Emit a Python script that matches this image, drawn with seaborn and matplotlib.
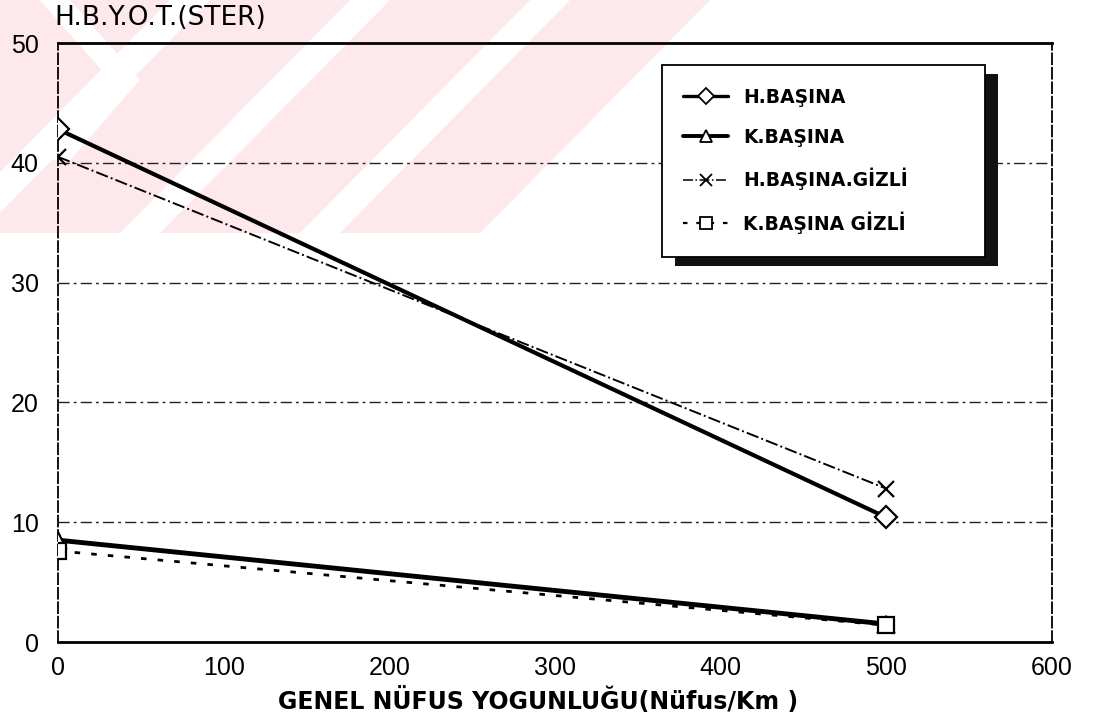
import numpy as np
import pandas as pd
import matplotlib
matplotlib.use("Agg")
import matplotlib.pyplot as plt
from matplotlib.patches import Polygon, Rectangle
from matplotlib.lines import Line2D
import seaborn as sns

# Veriler
nufus_yogunlugu = [0, 500]
h_basina = [42.8, 10.4]
k_basina = [8.5, 1.5]
h_basina_gizli = [40.5, 12.8]
k_basina_gizli = [7.6, 1.4]

seri_adlari = ["H.BAŞINA", "K.BAŞINA", "H.BAŞINA.GİZLİ", "K.BAŞINA GİZLİ"]
x_ticks = [0, 100, 200, 300, 400, 500, 600]
y_ticks = [0, 10, 20, 30, 40, 50]

sns.set_style("white")
plt.rcParams["font.family"] = ["Liberation Sans", "DejaVu Sans"]
plt.rcParams["text.color"] = "black"

W, H = 1104, 721
fig = plt.figure(figsize=(W / 100, H / 100), dpi=100)


def px(x, y):
    # piksel -> figure koordinati
    return (x / W, 1 - y / H)


# soluk kirmizi filigran (taranmis sayfadaki arka plan)
pembe = Polygon([px(0, 0), px(735, 0), px(500, 233), px(0, 233)], closed=True,
                transform=fig.transFigure, facecolor="#fde8ec", edgecolor="none", zorder=0)
fig.patches.append(pembe)
for bx in [-60, 120, 300, 480]:
    serit = Polygon([px(bx, 233), px(bx + 40, 233), px(bx + 270, 0), px(bx + 230, 0)],
                    closed=True, transform=fig.transFigure, facecolor="white",
                    edgecolor="none", zorder=0)
    fig.patches.append(serit)
ok = Polygon([px(40, 0), px(70, 0), px(140, 80), px(70, 160), px(40, 160), px(110, 80)],
             closed=True, transform=fig.transFigure, facecolor="white",
             edgecolor="none", zorder=0)
fig.patches.append(ok)

ax = fig.add_axes([58 / W, 1 - 642 / H, (1052 - 58) / W, (642 - 43) / H])
ax.set_zorder(2)
ax.set_facecolor("none")

df = pd.DataFrame({
    "x": nufus_yogunlugu * 4,
    "y": h_basina + k_basina + h_basina_gizli + k_basina_gizli,
    "seri": [s for s in seri_adlari for _ in nufus_yogunlugu],
})

stiller = {
    "H.BAŞINA": dict(lw=3.0, ls="-", marker="D", ms=11),
    "K.BAŞINA": dict(lw=3.5, ls="-", marker="^", ms=12),
    "H.BAŞINA.GİZLİ": dict(lw=1.4, ls="-.", marker="x", ms=11),
    "K.BAŞINA GİZLİ": dict(lw=2.0, ls=(0, (2, 4)), marker="s", ms=11),
}

for ad in seri_adlari:
    st = stiller[ad]
    sns.lineplot(data=df[df["seri"] == ad], x="x", y="y", ax=ax, color="black",
                 linewidth=st["lw"], linestyle=st["ls"], marker=st["marker"],
                 markersize=st["ms"], markerfacecolor="white", markeredgecolor="black",
                 markeredgewidth=1.6, legend=False, zorder=3)

ax.set_xlim(0, 600)
ax.set_ylim(0, 50)
ax.set_xticks(x_ticks)
ax.set_yticks(y_ticks)
ax.set_xlabel("")
ax.set_ylabel("")

# yatay izgara cizgileri
for yv in y_ticks[1:-1]:
    ax.axhline(yv, color="#222222", lw=1.0, ls=(0, (8, 3, 2, 3)), zorder=1)

for side in ["top", "bottom"]:
    ax.spines[side].set_linewidth(2.0)
    ax.spines[side].set_color("black")
for side in ["left", "right"]:
    ax.spines[side].set_linewidth(1.3)
    ax.spines[side].set_linestyle((0, (6, 2)))
    ax.spines[side].set_color("black")

ax.tick_params(axis="x", direction="in", length=7, width=1, pad=10, labelsize=18,
               colors="black", labelcolor="black")
ax.tick_params(axis="y", length=0, pad=14, labelsize=18, colors="black", labelcolor="black")

fig.text(54 / W, 1 - 18 / H, "H.B.Y.O.T.(STER)", fontsize=19, family="DejaVu Sans",
         color="black", ha="left", va="center")
fig.text(538 / W, 1 - 701 / H, "GENEL NÜFUS YOGUNLUĞU(Nüfus/Km )", fontsize=17,
         family="DejaVu Sans", fontweight="bold", color="black", ha="center", va="center")

# lejant: cerceve ve golge elle, icerik cercevesiz legend ile
x0, y0 = px(662, 257)
cerceve_w, cerceve_h = (985 - 662) / W, (257 - 65) / H
golge = Rectangle((x0 + 13 / W, y0 - 9 / H), cerceve_w, cerceve_h, transform=fig.transFigure,
                  facecolor="#111111", edgecolor="none", zorder=4, clip_on=False)
cerceve = Rectangle((x0, y0), cerceve_w, cerceve_h, transform=fig.transFigure,
                    facecolor="white", edgecolor="black", lw=1.3, zorder=4.5, clip_on=False)
ax.add_artist(golge)
ax.add_artist(cerceve)

tutamaklar = [Line2D([], [], color="black", lw=stiller[a]["lw"] * 0.8, ls=stiller[a]["ls"],
                     marker=stiller[a]["marker"], ms=stiller[a]["ms"] * 0.75,
                     markerfacecolor="white", markeredgewidth=1.3) for a in seri_adlari]
leg = ax.legend(tutamaklar, seri_adlari, loc="upper left",
                bbox_to_anchor=((683 - 58) / 994, (642 - 88) / 599),
                frameon=False, prop={"family": "DejaVu Sans", "weight": "bold", "size": 13.5},
                handlelength=2.4, handletextpad=0.8, labelspacing=1.12, borderpad=0,
                borderaxespad=0, labelcolor="black")
leg.set_zorder(5)

fig.savefig("out.png", dpi=100)
